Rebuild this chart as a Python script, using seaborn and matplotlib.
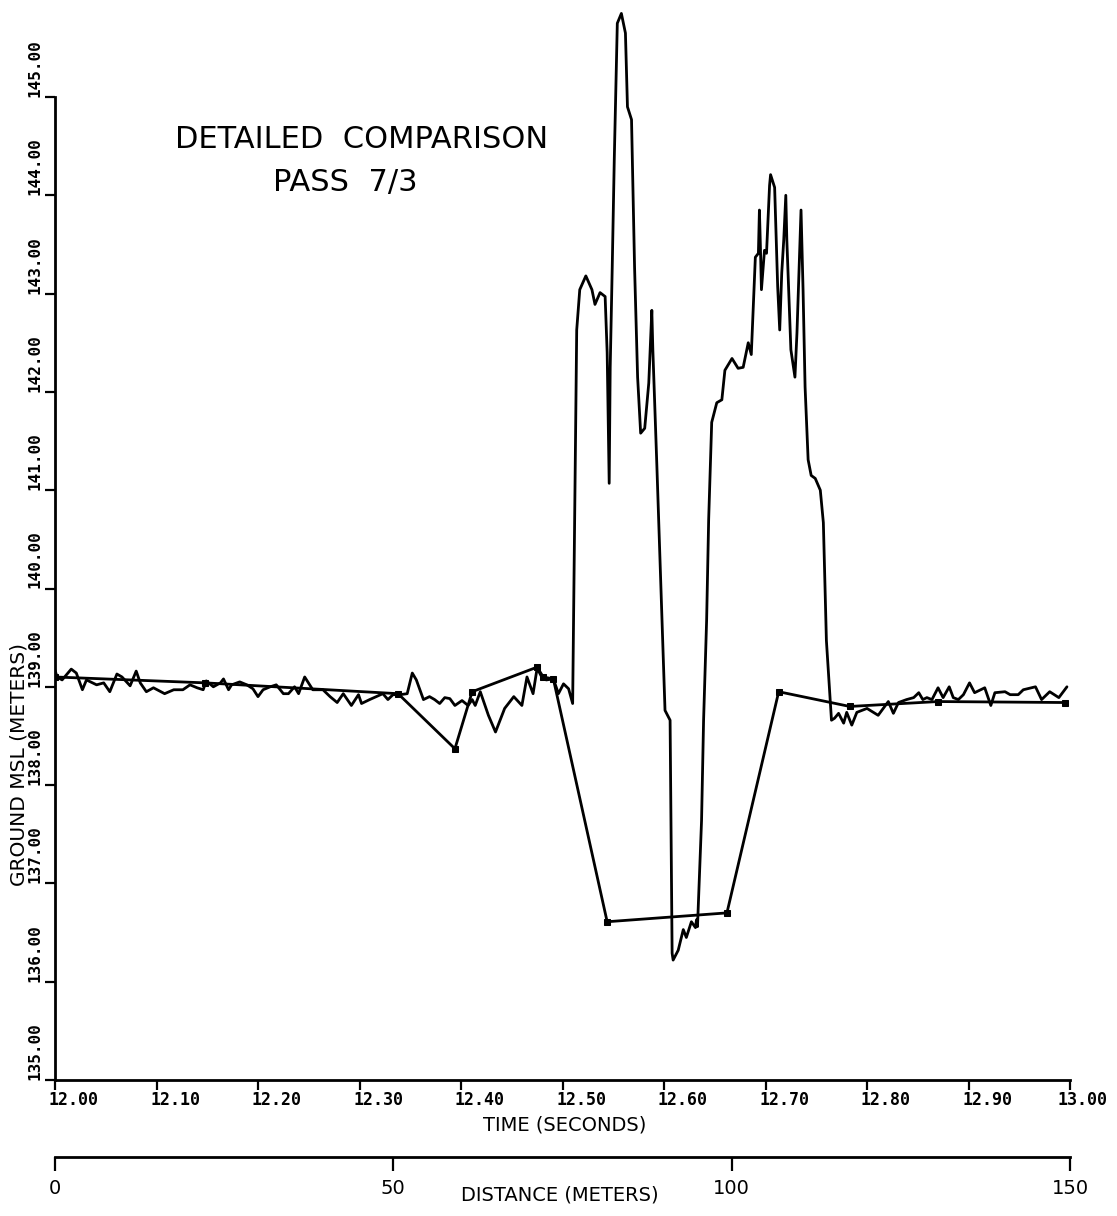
import matplotlib
matplotlib.use("Agg")
import matplotlib.pyplot as plt
import matplotlib.transforms as mtransforms
import seaborn as sns
import pandas as pd

# Profile measured along the pass (time in s, ground elevation in m MSL)
measured_time = [
    12.000, 12.002, 12.007, 12.016, 12.021, 12.027, 12.031, 12.041, 12.048, 12.054,
    12.061, 12.066, 12.074, 12.080, 12.084, 12.090, 12.097, 12.108, 12.117, 12.126,
    12.133, 12.140, 12.146, 12.149, 12.156, 12.163, 12.166, 12.171, 12.174, 12.182,
    12.189, 12.195, 12.200, 12.205, 12.212, 12.218, 12.225, 12.230, 12.236, 12.240,
    12.246, 12.254, 12.264, 12.271, 12.278, 12.284, 12.292, 12.299, 12.302, 12.310,
    12.323, 12.328, 12.333, 12.340, 12.347, 12.352, 12.356, 12.363, 12.369, 12.374,
    12.379, 12.384, 12.389, 12.394, 12.401, 12.407, 12.411, 12.414, 12.419, 12.427,
    12.434, 12.443, 12.452, 12.460, 12.465, 12.471, 12.475, 12.480, 12.484, 12.491,
    12.496, 12.501, 12.506, 12.510, 12.512, 12.514, 12.517, 12.523, 12.529, 12.532,
    12.537, 12.542, 12.544, 12.546, 12.547, 12.549, 12.551, 12.554, 12.558, 12.562,
    12.564, 12.568, 12.571, 12.574, 12.577, 12.581, 12.585, 12.588, 12.589, 12.593,
    12.598, 12.601, 12.606, 12.608, 12.609, 12.614, 12.619, 12.622, 12.627, 12.631,
    12.632, 12.633, 12.637, 12.639, 12.642, 12.644, 12.647, 12.652, 12.657, 12.660,
    12.667, 12.673, 12.678, 12.683, 12.686, 12.690, 12.693, 12.694, 12.695, 12.696,
    12.699, 12.701, 12.704, 12.705, 12.709, 12.712, 12.714, 12.716, 12.718, 12.720,
    12.721, 12.725, 12.729, 12.731, 12.733, 12.735, 12.737, 12.739, 12.742, 12.745,
    12.749, 12.754, 12.757, 12.760, 12.765, 12.768, 12.772, 12.777, 12.780, 12.785,
    12.790, 12.800, 12.811, 12.821, 12.826, 12.831, 12.839, 12.846, 12.851, 12.855,
    12.859, 12.864, 12.870, 12.875, 12.881, 12.885, 12.890, 12.895, 12.901, 12.906,
    12.916, 12.922, 12.926, 12.936, 12.941, 12.949, 12.954, 12.966, 12.972, 12.980,
    12.989, 12.997,
]
measured_elev = [
    139.17, 139.10, 139.07, 139.18, 139.14, 138.97, 139.07, 139.02, 139.04, 138.95,
    139.13, 139.10, 139.01, 139.16, 139.04, 138.95, 138.99, 138.93, 138.97, 138.97,
    139.02, 138.99, 138.97, 139.06, 139.00, 139.04, 139.08, 138.97, 139.02, 139.05,
    139.02, 138.98, 138.90, 138.97, 139.00, 139.02, 138.93, 138.93, 139.00, 138.93,
    139.10, 138.97, 138.97, 138.90, 138.84, 138.93, 138.81, 138.92, 138.83, 138.87,
    138.93, 138.87, 138.92, 138.92, 138.93, 139.14, 139.07, 138.87, 138.90, 138.87,
    138.83, 138.89, 138.88, 138.81, 138.86, 138.81, 138.87, 138.81, 138.95, 138.71,
    138.54, 138.78, 138.90, 138.81, 139.10, 138.93, 139.19, 139.09, 139.07, 139.08,
    138.93, 139.03, 138.98, 138.83, 140.70, 142.63, 143.04, 143.18, 143.04, 142.89,
    143.01, 142.97, 142.40, 141.07, 142.25, 143.27, 144.36, 145.75, 145.85, 145.65,
    144.90, 144.77, 143.27, 142.15, 141.58, 141.63, 142.09, 142.83, 142.43, 141.24,
    139.68, 138.76, 138.66, 136.29, 136.22, 136.32, 136.53, 136.45, 136.61, 136.55,
    136.63, 136.56, 137.64, 138.66, 139.68, 140.70, 141.69, 141.89, 141.92, 142.22,
    142.34, 142.24, 142.25, 142.50, 142.38, 143.37, 143.41, 143.85, 143.47, 143.04,
    143.44, 143.41, 144.10, 144.21, 144.08, 143.07, 142.63, 143.21, 143.55, 144.00,
    143.55, 142.43, 142.15, 142.60, 143.21, 143.85, 143.04, 142.05, 141.31, 141.15,
    141.12, 141.00, 140.67, 139.47, 138.66, 138.68, 138.73, 138.63, 138.74, 138.61,
    138.74, 138.78, 138.71, 138.85, 138.73, 138.84, 138.87, 138.89, 138.94, 138.87,
    138.89, 138.87, 138.99, 138.89, 139.00, 138.89, 138.87, 138.92, 139.04, 138.94,
    138.99, 138.81, 138.94, 138.95, 138.92, 138.92, 138.97, 139.00, 138.87, 138.95,
    138.89, 139.00,
]

# Surveyed ground control points
survey_time = [12.000, 12.148, 12.338, 12.394, 12.411, 12.475, 12.481, 12.491,
               12.544, 12.662, 12.713, 12.783, 12.870, 12.995]
survey_elev = [139.10, 139.04, 138.93, 138.37, 138.95, 139.20, 139.10, 139.08,
               136.61, 136.70, 138.95, 138.80, 138.85, 138.84]

time_ticks = [12.0, 12.1, 12.2, 12.3, 12.4, 12.5, 12.6, 12.7, 12.8, 12.9, 13.0]
time_labels = ["12.00", "12.10", "12.20", "12.30", "12.40", "12.50",
               "12.60", "12.70", "12.80", "12.90", "13.00"]
elev_ticks = [135, 136, 137, 138, 139, 140, 141, 142, 143, 144, 145]
elev_labels = ["135.00", "136.00", "137.00", "138.00", "139.00", "140.00",
               "141.00", "142.00", "143.00", "144.00", "145.00"]
dist_ticks = [0, 50, 100, 150]
dist_labels = ["0", "50", "100", "150"]

measured = pd.DataFrame({"time": measured_time, "elev": measured_elev})
survey = pd.DataFrame({"time": survey_time, "elev": survey_elev})

sns.set_theme(style="white")
plt.rcParams["font.family"] = ["DejaVu Sans"]
plt.rcParams["text.color"] = "black"
plt.rcParams["axes.labelcolor"] = "black"
plt.rcParams["xtick.color"] = "black"
plt.rcParams["ytick.color"] = "black"

fig = plt.figure(figsize=(11.17, 12.16), dpi=100)
# time axis sits 1080 px down; elevation scale is ~98.3 px per metre
ax = fig.add_axes([55 / 1117, 136 / 1216, 1015 / 1117, 1080 / 1216])

sns.lineplot(data=measured, x="time", y="elev", ax=ax, color="black",
             linewidth=2.0, estimator=None, sort=False)
sns.lineplot(data=survey, x="time", y="elev", ax=ax, color="black",
             linewidth=2.0, estimator=None, sort=False,
             marker="s", markersize=4, markeredgecolor="black")

ax.set_xlim(12.0, 13.0)
ax.set_ylim(135.0, 135.0 + 1080 / 98.3)

for side in ("top", "right"):
    ax.spines[side].set_visible(False)
for side in ("left", "bottom"):
    ax.spines[side].set_color("black")
    ax.spines[side].set_linewidth(2.0)
ax.spines["left"].set_bounds(135, 145)

# time labels start just left of their tick, plotter style
ax.set_xticks(time_ticks, [""] * len(time_ticks))
for i, (t, lab) in enumerate(zip(time_ticks, time_labels)):
    dx = -4.5 if i < len(time_ticks) - 1 else -9.0
    offset = mtransforms.ScaledTranslation(dx / 72, -8 / 72, fig.dpi_scale_trans)
    ax.text(t, 0, lab, transform=ax.get_xaxis_transform() + offset,
            ha="left", va="top", family="DejaVu Sans Mono", weight="bold",
            size=12)

ax.set_yticks(elev_ticks, elev_labels, rotation=90, va="bottom", ha="right",
              family="DejaVu Sans Mono", weight="bold", size=11.5)
ax.tick_params(axis="both", direction="out", length=7, width=1.6,
               color="black", bottom=True, left=True, pad=2)

ax.set_xlabel("TIME (SECONDS)", fontsize=14)
ax.xaxis.set_label_coords(0.5025, -0.033)
ax.set_ylabel("GROUND MSL (METERS)", fontsize=14.5)
ax.yaxis.set_label_coords(-0.026, 0.292)

# Distance scale beneath the time axis
dist = ax.secondary_xaxis(-0.071, functions=(lambda t: (t - 12.0) * 150.0,
                                             lambda d: 12.0 + d / 150.0))
dist.set_xticks(dist_ticks, dist_labels, fontsize=14)
dist.tick_params(direction="out", length=10, width=1.6, color="black", pad=6)
dist.spines["bottom"].set_linewidth(2.0)
dist.spines["bottom"].set_color("black")
fig.text(560 / 1117, 1 - 1195 / 1216, "DISTANCE (METERS)", fontsize=14,
         ha="center", va="center")

fig.text(362 / 1117, 1 - 140 / 1216, "DETAILED  COMPARISON", fontsize=22,
         ha="center", va="center")
fig.text(345 / 1117, 1 - 182 / 1216, "PASS  7/3", fontsize=22,
         ha="center", va="center")

fig.savefig("out.png", dpi=100, facecolor="white")
